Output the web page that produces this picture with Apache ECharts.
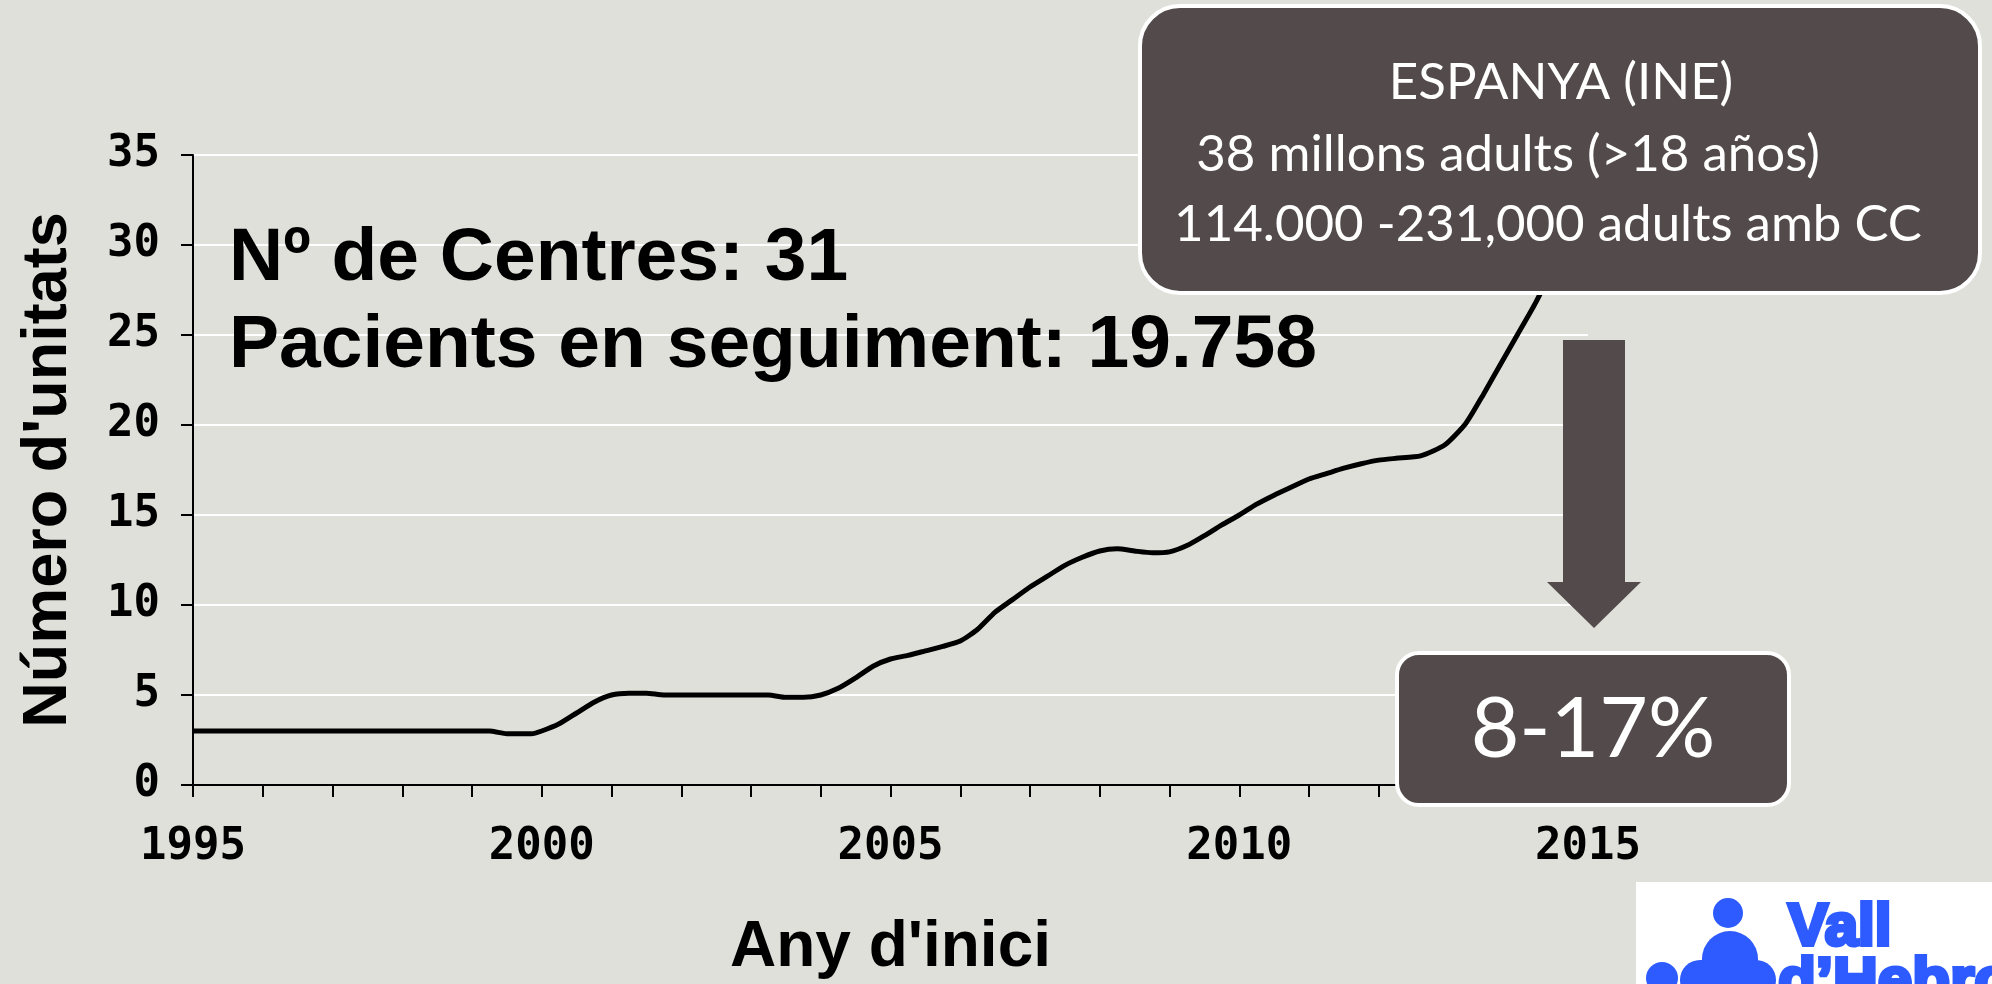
<!DOCTYPE html>
<html>
<head>
<meta charset="utf-8">
<title>Número d'unitats per any d'inici</title>
<script src="https://cdn.jsdelivr.net/npm/echarts@6/dist/echarts.min.js"></script>
<style>
  html, body { margin: 0; padding: 0; background: #e0e0db; }
  #chart { width: 1992px; height: 984px; }
</style>
</head>
<body>
<div id="chart"></div>
<script>
// Number of adult congenital heart disease units by start year (Spain)
const years = [
  1995, 1996, 1997, 1998, 1999, 1999.25, 1999.5, 1999.85, 2000,
  2000.25, 2000.5, 2000.75, 2001, 2001.25, 2001.5, 2001.75, 2002, 2002.5,
  2003, 2003.25, 2003.5, 2003.75, 2004, 2004.25, 2004.5, 2004.75, 2005,
  2005.25, 2005.5, 2005.75, 2006, 2006.25, 2006.5, 2006.75, 2007, 2007.25,
  2007.5, 2007.75, 2008, 2008.25, 2008.5, 2008.75, 2009, 2009.25, 2009.5,
  2009.75, 2010, 2010.25, 2010.5, 2010.75, 2011, 2011.25, 2011.5, 2011.75,
  2012, 2012.25, 2012.6, 2012.95, 2013.25, 2013.5, 2013.75, 2014, 2014.25,
  2014.5, 2014.75
];
const units = [
  3, 3, 3, 3, 3, 3, 2.85, 2.85, 3,
  3.4, 4.0, 4.6, 5.0, 5.1, 5.1, 5.0, 5.0, 5.0,
  5.0, 5.0, 4.87, 4.87, 5.0, 5.37, 5.95, 6.6, 7.0,
  7.2, 7.45, 7.7, 8.0, 8.65, 9.6, 10.3, 11.0, 11.6,
  12.2, 12.65, 13.0, 13.12, 13.0, 12.9, 12.95, 13.3, 13.85,
  14.45, 15.0, 15.6, 16.1, 16.55, 17.0, 17.3, 17.6, 17.85,
  18.05, 18.15, 18.28, 18.9, 20.1, 21.7, 23.4, 25.1, 26.8,
  28.8, 31
];

const xTickValues = [1995, 2000, 2005, 2010, 2015];
const xTickLabels = ['1995', '2000', '2005', '2010', '2015'];
const yTickValues = [0, 5, 10, 15, 20, 25, 30, 35];
const yTickLabels = ['0', '5', '10', '15', '20', '25', '30', '35'];

const headline = ['Nº de Centres: 31', 'Pacients en seguiment: 19.758'];
const spainLines = ['ESPANYA (INE)', '38 millons adults (>18 años)', '114.000 -231,000 adults amb CC'];
const shareText = '8-17%';

const seriesData = years.map((y, i) => [y, units[i]]);

const BOX = '#524a4b';
const BLUE = '#2d5bff';
const monoFont = { fontFamily: 'DejaVu Sans Mono', fontWeight: 'bold', fontSize: 44, color: '#000' };

const chart = echarts.init(document.getElementById('chart'), null, { renderer: 'canvas' });

chart.setOption({
  backgroundColor: '#e0e0db',
  animation: false,
  grid: { left: 193, right: 404, top: 155, bottom: 199, containLabel: false, outerBoundsMode: 'none' },
  xAxis: {
    type: 'value',
    min: 1995, max: 2015, interval: 5,
    name: "Any d'inici",
    nameLocation: 'middle',
    nameGap: 131,
    nameTextStyle: { fontFamily: 'Liberation Sans', fontWeight: 'bold', fontSize: 64, color: '#000' },
    axisLine: { show: true, lineStyle: { color: '#000', width: 2 } },
    axisTick: { show: true, length: 12, lineStyle: { color: '#000', width: 2 } },
    minorTick: { show: true, splitNumber: 5, length: 12, lineStyle: { color: '#000', width: 2 } },
    splitLine: { show: false },
    axisLabel: Object.assign({
      margin: 41,
      formatter: v => { const k = xTickValues.indexOf(v); return k < 0 ? '' : xTickLabels[k]; }
    }, monoFont)
  },
  yAxis: {
    type: 'value',
    min: 0, max: 35, interval: 5,
    name: "Número d'unitats",
    nameLocation: 'middle',
    nameRotate: 90,
    nameGap: 113,
    nameTextStyle: { fontFamily: 'Liberation Sans', fontWeight: 'bold', fontSize: 63, color: '#000' },
    axisLine: { show: true, lineStyle: { color: '#000', width: 2 } },
    axisTick: { show: true, length: 12, lineStyle: { color: '#000', width: 2 } },
    splitLine: { show: true, lineStyle: { color: '#ffffff', width: 2 } },
    axisLabel: Object.assign({
      margin: 33,
      formatter: v => { const k = yTickValues.indexOf(v); return k < 0 ? '' : yTickLabels[k]; }
    }, monoFont)
  },
  series: [{
    type: 'line',
    data: seriesData,
    showSymbol: false,
    smooth: 0.2,
    lineStyle: { color: '#000', width: 5 },
    z: 3
  }],
  graphic: [
    // headline figures
    { type: 'text', silent: true, z: 50, x: 229, y: 259,
      style: { text: headline[0], fill: '#000', font: 'bold 75px "Liberation Sans"', verticalAlign: 'middle' } },
    { type: 'text', silent: true, z: 50, x: 229, y: 346,
      style: { text: headline[1], fill: '#000', font: 'bold 75px "Liberation Sans"', verticalAlign: 'middle' } },

    // population box
    { type: 'rect', silent: true, z: 100,
      shape: { x: 1140, y: 6, width: 840, height: 287, r: 40 },
      style: { fill: BOX, stroke: '#ffffff', lineWidth: 4 } },
    { type: 'text', silent: true, z: 101, x: 1561, y: 83,
      style: { text: spainLines[0], fill: '#fff', font: '51px Lato', align: 'center', verticalAlign: 'middle' } },
    { type: 'text', silent: true, z: 101, x: 1508, y: 155,
      style: { text: spainLines[1], fill: '#fff', font: '51px Lato', align: 'center', verticalAlign: 'middle' } },
    { type: 'text', silent: true, z: 101, x: 1548, y: 225,
      style: { text: spainLines[2], fill: '#fff', font: '51px Lato', align: 'center', verticalAlign: 'middle' } },

    // down arrow
    { type: 'polygon', silent: true, z: 100,
      shape: { points: [[1563, 340], [1625, 340], [1625, 582], [1641, 582], [1594, 628], [1547, 582], [1563, 582]] },
      style: { fill: BOX } },

    // share box
    { type: 'rect', silent: true, z: 100,
      shape: { x: 1397, y: 653, width: 392, height: 152, r: 22 },
      style: { fill: BOX, stroke: '#ffffff', lineWidth: 4 } },
    { type: 'text', silent: true, z: 101, x: 1593, y: 730,
      style: { text: shareText, fill: '#fff', font: '84px Lato', align: 'center', verticalAlign: 'middle' } },

    // hospital logo
    { type: 'rect', silent: true, z: 100,
      shape: { x: 1636, y: 882, width: 360, height: 110 },
      style: { fill: '#ffffff' } },
    { type: 'circle', silent: true, z: 101,
      shape: { cx: 1728, cy: 913, r: 15 }, style: { fill: BLUE } },
    { type: 'rect', silent: true, z: 101,
      shape: { x: 1702, y: 931, width: 56, height: 70, r: [28, 28, 0, 0] }, style: { fill: BLUE } },
    { type: 'rect', silent: true, z: 101,
      shape: { x: 1680, y: 960, width: 96, height: 40, r: 20 }, style: { fill: BLUE } },
    { type: 'circle', silent: true, z: 101,
      shape: { cx: 1662, cy: 978, r: 16 }, style: { fill: BLUE } },
    { type: 'text', silent: true, z: 101, x: 1788, y: 958,
      style: { text: 'Vall', fill: BLUE, stroke: BLUE, lineWidth: 4, font: 'bold 60px "Liberation Sans"', verticalAlign: 'bottom' } },
    { type: 'text', silent: true, z: 101, x: 1778, y: 952,
      style: { text: 'd\u2019Hebron', fill: BLUE, stroke: BLUE, lineWidth: 4, font: 'bold 62px "Liberation Sans"', verticalAlign: 'top' } }
  ]
});
</script>
</body>
</html>
